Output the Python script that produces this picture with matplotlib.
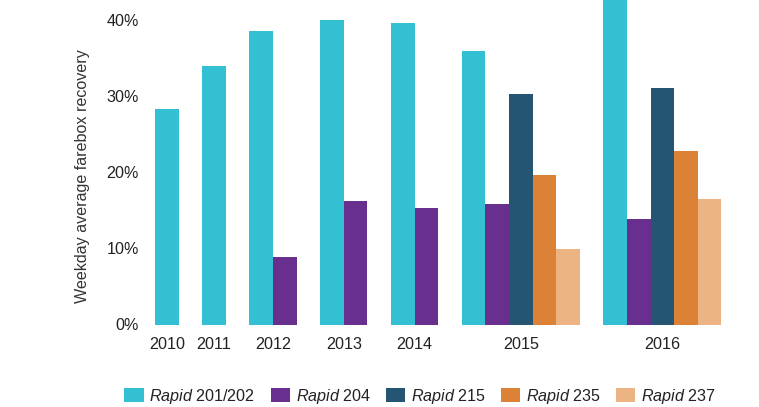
import matplotlib
matplotlib.use("Agg")
import matplotlib.pyplot as plt
from matplotlib.ticker import FuncFormatter

plt.rcParams["font.family"] = ["Liberation Sans", "DejaVu Sans"]
plt.rcParams["mathtext.fontset"] = "custom"
plt.rcParams["mathtext.it"] = "Liberation Sans:italic"
plt.rcParams["mathtext.rm"] = "Liberation Sans"

years = ["2010", "2011", "2012", "2013", "2014", "2015", "2016"]
routes = ["201/202", "204", "215", "235", "237"]
rapid_201_202 = [28.3, 33.9, 38.5, 40.0, 39.6, 35.9, 44.0]
rapid_204 = [None, None, 8.9, 16.2, 15.3, 15.8, 13.8]
rapid_215 = [None, None, None, None, None, 30.3, 31.0]
rapid_235 = [None, None, None, None, None, 19.6, 22.8]
rapid_237 = [None, None, None, None, None, 9.9, 16.5]
y_ticks = [0, 10, 20, 30, 40]

series = [rapid_201_202, rapid_204, rapid_215, rapid_235, rapid_237]
colors = ["#32C0D2", "#682F8E", "#245573", "#DB8236", "#ECB483"]

FS = 11.6
W, H = 759, 407
fig = plt.figure(figsize=(W / 100, H / 100), dpi=100)
ax_left, ax_right, ax_bottom, ax_top = 150, 759, 324.5, 0
ax = fig.add_axes([ax_left / W, 1 - ax_bottom / H,
                   (ax_right - ax_left) / W, (ax_bottom - ax_top) / H])

# Bars of a year sit side by side; one bar-width gap separates the years
pos = 0.0
centers = []
handles = [None] * len(series)
for i in range(len(years)):
    start = pos
    for s, vals in enumerate(series):
        v = vals[i]
        if v is None:
            continue
        b = ax.bar(pos + 0.5, v, width=1.0, color=colors[s], linewidth=0)
        handles[s] = b
        pos += 1
    centers.append((start + pos) / 2)
    pos += 1

unit = 23.6
first_bar_px = 155
ax.set_xlim((ax_left - first_bar_px) / unit, (ax_right - first_bar_px) / unit)
ax.set_ylim(0, 42.6)

ax.set_xticks(centers)
ax.set_xticklabels(years)
ax.set_yticks(y_ticks)
ax.yaxis.set_major_formatter(FuncFormatter(lambda v, p: f"{v:.0f}%"))
ax.tick_params(axis="both", length=0, labelsize=FS, colors="#222222")
ax.tick_params(axis="y", pad=8)
ax.tick_params(axis="x", pad=9)
for sp in ax.spines.values():
    sp.set_visible(False)

fig.text(83 / W, 1 - 176 / H, "Weekday average farebox recovery",
         rotation=90, ha="center", va="center", fontsize=FS, color="#333333")

labels = [r"$\mathit{Rapid}$ " + r for r in routes]
fig.legend(handles, labels, ncol=5, loc="center",
           bbox_to_anchor=(420 / W, 1 - 396 / H), frameon=False,
           fontsize=FS, handlelength=1.2, handleheight=1.05,
           handletextpad=0.35, columnspacing=0.95, labelcolor="#222222")

fig.savefig("out.png", dpi=100)
